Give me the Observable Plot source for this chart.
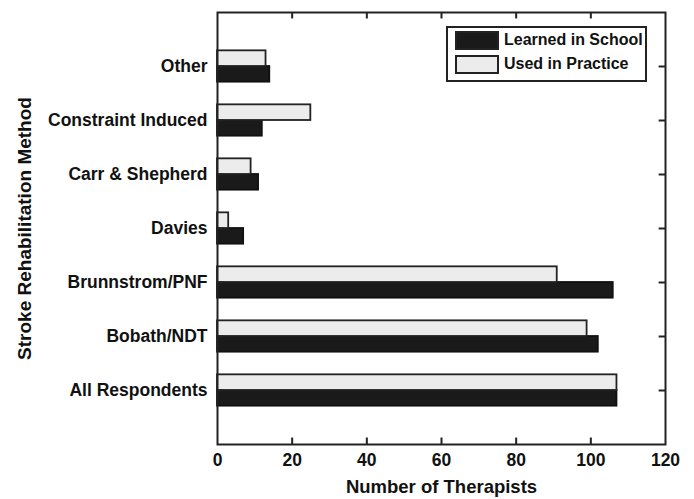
<!DOCTYPE html>
<html>
<head>
<meta charset="utf-8">
<script src="https://cdn.jsdelivr.net/npm/d3@7"></script>
<script src="https://cdn.jsdelivr.net/npm/@observablehq/plot@0.6"></script>
<style>
  html, body { margin: 0; padding: 0; background: #fff; }
  #wrap { position: relative; width: 694px; height: 499px; font-family: "Liberation Sans", Arial, sans-serif; }
  #legend { position: absolute; left: 446px; top: 26px; width: 197px; height: 52px; border: 2px solid #222; background: #fff; }
  .sw { position: absolute; left: 7px; width: 40px; height: 15px; border: 2px solid #222; }
  .lt { position: absolute; left: 56px; font-size: 16px; font-weight: bold; color: #111; line-height: 18px; white-space: nowrap; }
</style>
</head>
<body>
<div id="wrap"></div>
<script>
// Categories, bottom to top
const methods = ["All Respondents", "Bobath/NDT", "Brunnstrom/PNF", "Davies", "Carr & Shepherd", "Constraint Induced", "Other"];
const learnedInSchool = [107, 102, 106, 7, 11, 12, 14];
const usedInPractice = [107, 99, 91, 3, 9, 25, 13];
const xTicks = [0, 20, 40, 60, 80, 100, 120];
const seriesNames = ["Learned in School", "Used in Practice"];

const positions = methods.map((m, i) => i + 1);
const learnedRows = methods.map((m, i) => ({method: m, pos: i + 1, value: learnedInSchool[i]}));
const usedRows = methods.map((m, i) => ({method: m, pos: i + 1, value: usedInPractice[i]}));
const innerX = xTicks.slice(1, -1);

const barHalf = 0.29;
const tickLenY = 0.12;  // inward tick length in y units
const tickLenX = 1.7;   // inward tick length in x units

const font = "'Liberation Sans', Arial, sans-serif";

const chart = Plot.plot({
  width: 694,
  height: 499,
  marginLeft: 217,
  marginRight: 29,
  marginTop: 12,
  marginBottom: 55,
  style: {fontFamily: font, color: "#111", background: "#fff"},
  x: {domain: [0, 120]},
  y: {domain: [0, 8]},
  marks: [
    Plot.rect(learnedRows, {x1: 0, x2: "value", y1: d => d.pos - barHalf, y2: d => d.pos, fill: "#1a1a1a", stroke: "#111", strokeWidth: 1.8}),
    Plot.rect(usedRows, {x1: 0, x2: "value", y1: d => d.pos, y2: d => d.pos + barHalf, fill: "#ececec", stroke: "#222", strokeWidth: 1.8}),
    // inward ticks
    Plot.ruleX(innerX, {x: d => d, y1: 0, y2: tickLenY, stroke: "#222", strokeWidth: 2}),
    Plot.ruleX(innerX, {x: d => d, y1: 8, y2: 8 - tickLenY, stroke: "#222", strokeWidth: 2}),
    Plot.ruleY(positions, {y: d => d, x1: 120, x2: 120 - tickLenX, stroke: "#222", strokeWidth: 2}),
    Plot.ruleY(positions, {y: d => d, x1: 0, x2: tickLenX, stroke: "#222", strokeWidth: 2}),
    Plot.frame({stroke: "#222", strokeWidth: 2}),
    Plot.axisX({ticks: xTicks, tickSize: 0, tickPadding: 9, fontSize: 17.5, fontWeight: "bold", label: null}),
    Plot.axisY({ticks: positions, tickFormat: d => methods[d - 1], tickSize: 0, tickPadding: 10, fontSize: 17.5, fontWeight: "bold", label: null}),
    Plot.text(["Number of Therapists"], {frameAnchor: "bottom", dy: 48, fontSize: 18.5, fontWeight: "bold", fill: "#111"}),
    Plot.text(["Stroke Rehabilitation Method"], {frameAnchor: "left", textAnchor: "middle", dx: -193, rotate: -90, fontSize: 19, fontWeight: "bold", fill: "#111"})
  ]
});

const wrap = document.getElementById("wrap");
wrap.appendChild(chart);

const legend = document.createElement("div");
legend.id = "legend";
const fills = ["#1a1a1a", "#ececec"];
seriesNames.forEach((name, i) => {
  const sw = document.createElement("div");
  sw.className = "sw";
  sw.style.top = (3 + i * 24) + "px";
  sw.style.background = fills[i];
  legend.appendChild(sw);
  const t = document.createElement("div");
  t.className = "lt";
  t.style.top = (3 + i * 24) + "px";
  t.textContent = name;
  legend.appendChild(t);
});
wrap.appendChild(legend);
</script>
</body>
</html>
